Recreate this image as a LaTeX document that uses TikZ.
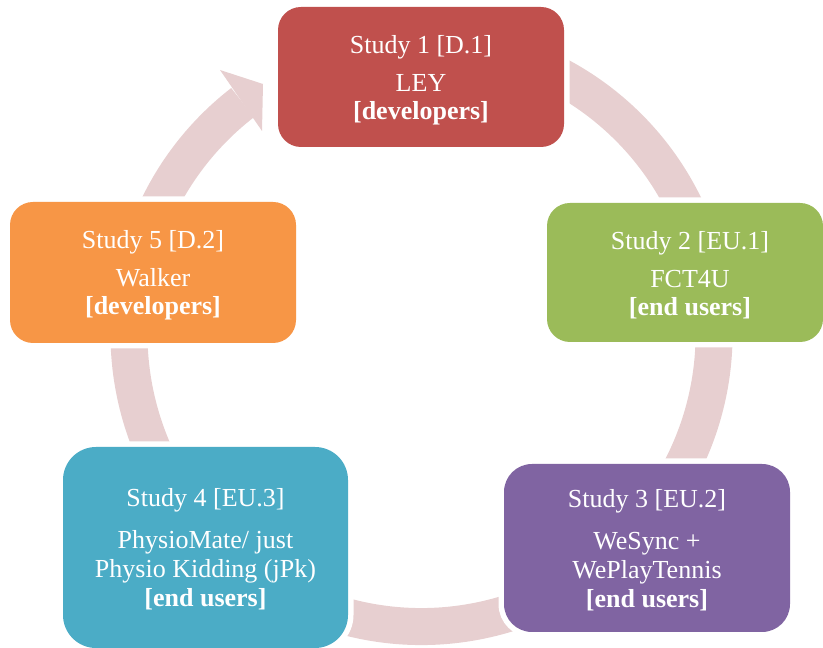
\documentclass[tikz,border=0pt]{standalone}
\usepackage{fontspec}
\setmainfont{Liberation Serif}
\definecolor{ringc}{RGB}{231,207,208}
\definecolor{cred}{RGB}{192,80,77}
\definecolor{cgreen}{RGB}{155,187,89}
\definecolor{cpurple}{RGB}{128,100,162}
\definecolor{caqua}{RGB}{75,172,198}
\definecolor{corange}{RGB}{247,150,70}
\begin{document}
\begin{tikzpicture}[x=1pt,y=1pt,
  box/.style={rectangle, inner sep=0pt, preaction={draw=white, line width=11pt}},
  lbl/.style={text=white, align=center, font=\fontsize{26}{28}\selectfont, inner sep=0pt},
  lblf/.style={text=white, align=center, font=\fontsize{26}{29}\selectfont, inner sep=0pt},
  ring/.style={draw=ringc, line width=37pt}]
\useasboundingbox (0,0) rectangle (823,648);
% ring of arrows
\coordinate (C) at (421.5,314);
\draw[ring] ([shift={(105:292.5)}]C) arc[start angle=105, end angle=-232.3, radius=292.5];
\coordinate (hwo) at (220,578);
\coordinate (htip) at (263,564);
\coordinate (hwi) at (262,517);
\fill[ringc] (hwo) -- (htip) -- (hwi) -- cycle;
% boxes
\node[box, fill=cred, rounded corners=23pt, minimum width=286pt, minimum height=140pt] (b1) at (421,571) {};
\node[box, fill=cgreen, rounded corners=23pt, minimum width=276pt, minimum height=139pt] (b2) at (685,375.5) {};
\node[box, fill=cpurple, rounded corners=28pt, minimum width=286pt, minimum height=168pt] (b3) at (647,100) {};
\node[box, fill=caqua, rounded corners=33pt, minimum width=285pt, minimum height=201pt] (b4) at (205.5,100.5) {};
\node[box, fill=corange, rounded corners=23pt, minimum width=286pt, minimum height=141pt] (b5) at (153,375.5) {};
% texts
\node[lbl] (t1) at ([yshift=-3pt]b1.center) {Study 1 [D.1]\\[10pt] LEY\\ \textbf{[developers]}};
\node[lbl] (t2) at (690,372.5) {Study 2 [EU.1]\\[10pt] FCT4U\\ \textbf{[end users]}};
\node[lblf] (t3) at ([yshift=-2pt]b3.center) {Study 3 [EU.2]\\[13pt] WeSync +\\ WePlayTennis\\ \textbf{[end users]}};
\node[lblf] (t4) at ([yshift=-2pt]b4.center) {Study 4 [EU.3]\\[13pt] PhysioMate/ just\\ Physio Kidding (jPk)\\ \textbf{[end users]}};
\node[lbl] (t5) at (153,372.5) {Study 5 [D.2]\\[10pt] Walker\\ \textbf{[developers]}};
\end{tikzpicture}
\end{document}
